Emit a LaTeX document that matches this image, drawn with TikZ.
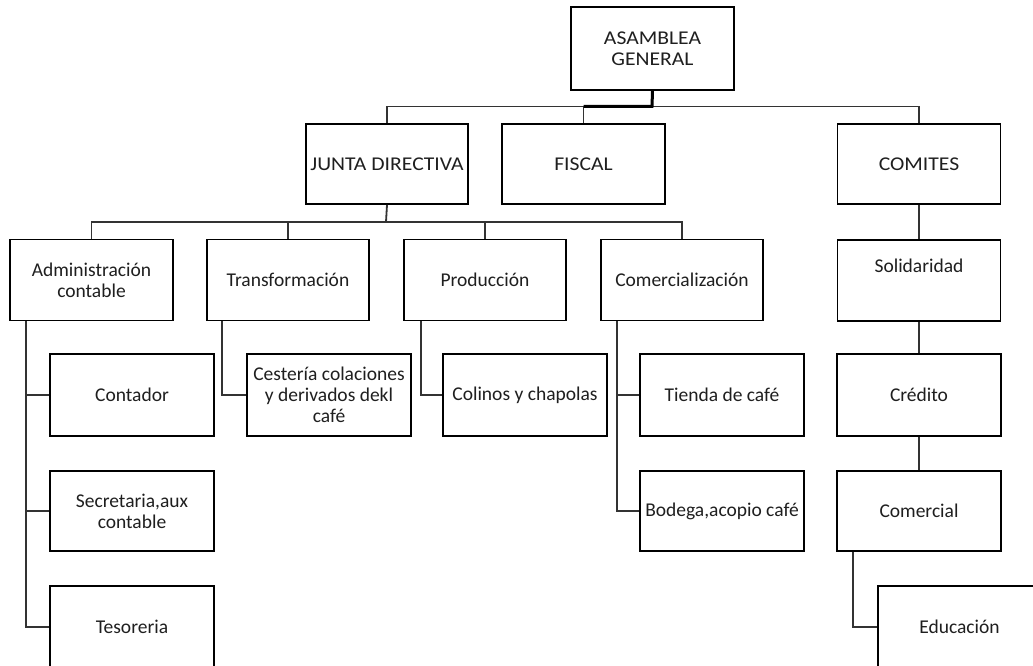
\documentclass[tikz,border=0pt]{standalone}
\usepackage{fontspec}
\setmainfont{Carlito}
\newfontfamily\capsfont[FakeStretch=1.11]{Carlito}
\newcommand{\capsp}[1]{{\capsfont #1}}
\begin{document}
\begin{tikzpicture}[x=1pt,y=-1pt,
  box/.style={draw=black,line width=1.8pt,fill=white,minimum width=163pt,minimum height=81pt,
    inner sep=0pt,align=center,font=\fontsize{19.5}{21}\selectfont,text=black!88},
  conn/.style={draw=black!80,line width=1.8pt},
  main/.style={draw=black,line width=3pt}]
\useasboundingbox (0,0) rectangle (1033,666);
% top level
\node[box,minimum height=83pt] (asam) at (652.5,48.5) {\capsp{ASAMBLEA}\\\capsp{GENERAL}};
\node[box,minimum width=162pt,minimum height=80pt] (junta) at (387,164) {\capsp{JUNTA DIRECTIVA}};
\node[box,minimum height=80pt] (fiscal) at (583.5,164) {\capsp{FISCAL}};
\node[box,minimum height=80pt] (comites) at (919,164) {\capsp{COMITES}};
% second level
\node[box] (admin) at (91.5,280) {Administración\\contable};
\node[box,minimum width=162pt] (transf) at (288,280) {Transformación};
\node[box,minimum width=162pt] (prod) at (485,280) {Producción};
\node[box,minimum width=162pt] (comerc) at (682,280) {Comercialización};
\node[box] (solid) at (919,280.5) {Solidaridad\\[2pt]\strut};
% third level
\node[box,minimum width=164pt,minimum height=82pt] (contador) at (132,395) {Contador};
\node[box,minimum width=164pt,minimum height=80pt] (secret) at (132,511) {Secretaria,aux\\contable};
\node[box,minimum width=164pt,minimum height=82pt] (tesor) at (132,627) {Tesoreria};
\node[box,minimum width=164pt,minimum height=82pt] (cest) at (329,395) {Cestería colaciones\\y derivados dekl\\café};
\node[box,minimum width=164pt,minimum height=82pt] (colinos) at (525,395) {Colinos y chapolas};
\node[box,minimum width=164pt,minimum height=82pt] (tienda) at (722,395) {Tienda de café};
\node[box,minimum width=164pt,minimum height=80pt] (bodega) at (722,511) {Bodega,acopio café};
\node[box,minimum width=164pt,minimum height=82pt] (credito) at (919,395) {Crédito};
\node[box,minimum width=164pt,minimum height=80pt] (comercial) at (919,511) {Comercial};
\node[box,minimum width=163pt,minimum height=82pt] (educ) at (959.5,627) {Educación};
% coordinates
\coordinate (b1) at (652,106.5);
\coordinate (b2) at (386,222);
% connectors top
\draw[conn] (junta.north) -- (junta.north |- b1) -- (comites.north |- b1) -- (comites.north);
\draw[conn] (fiscal.north) -- (fiscal.north |- b1);
\draw[main] (asam.south) -- (b1) -- (fiscal.north |- b1);
% junta to second level
\draw[conn] (junta.south) -- (b2);
\draw[conn] (admin.north) -- (admin.north |- b2) -- (comerc.north |- b2) -- (comerc.north);
\draw[conn] (transf.north) -- (transf.north |- b2);
\draw[conn] (prod.north) -- (prod.north |- b2);
% admin children
\coordinate (ax) at (26,321);
\draw[conn] (admin.south -| ax) -- (ax |- tesor.west) -- (tesor.west);
\draw[conn] (ax |- contador.west) -- (contador.west);
\draw[conn] (ax |- secret.west) -- (secret.west);
% transformacion
\coordinate (tx) at (222,321);
\draw[conn] (transf.south -| tx) -- (tx |- cest.west) -- (cest.west);
% produccion
\coordinate (px) at (421,321);
\draw[conn] (prod.south -| px) -- (px |- colinos.west) -- (colinos.west);
% comercializacion
\coordinate (cx) at (617,321);
\draw[conn] (comerc.south -| cx) -- (cx |- bodega.west) -- (bodega.west);
\draw[conn] (cx |- tienda.west) -- (tienda.west);
% comites chain
\draw[conn] (comites.south) -- (solid.north);
\draw[conn] (solid.south) -- (credito.north);
\draw[conn] (credito.south) -- (comercial.north);
\coordinate (ex) at (853,551);
\draw[conn] (comercial.south -| ex) -- (ex |- educ.west) -- (educ.west);
\end{tikzpicture}
\end{document}
